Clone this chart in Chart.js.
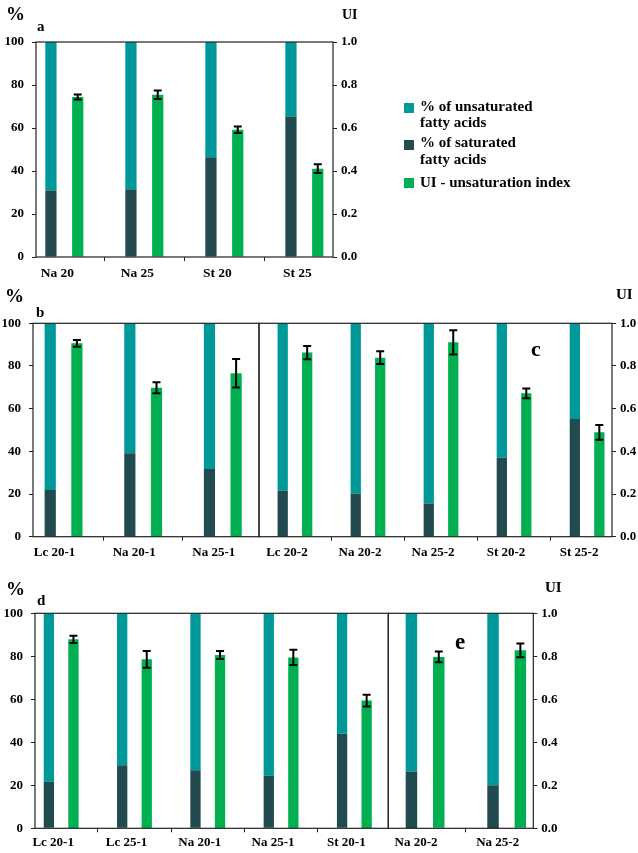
<!DOCTYPE html>
<html>
<head>
<meta charset="utf-8">
<script src="https://cdn.jsdelivr.net/npm/chart.js@4.4.1/dist/chart.umd.min.js"></script>
<style>
  body { margin: 0; background: #fff; }
  #page { position: relative; width: 638px; height: 853px; overflow: hidden;
          font-family: 'Liberation Serif', 'Times New Roman', serif; font-weight: bold; color: #000; }
  canvas { position: absolute; left: 0; }
  .t { position: absolute; line-height: 1; white-space: nowrap; }
  .sq { position: absolute; width: 10px; height: 10px; }
</style>
</head>
<body>
<div id="page">
  <canvas id="chA" width="638" height="285" style="top:0px"></canvas>
  <canvas id="chB" width="638" height="285" style="top:285px"></canvas>
  <canvas id="chC" width="638" height="285" style="top:285px"></canvas>
  <canvas id="chD" width="638" height="283" style="top:570px"></canvas>
  <canvas id="chE" width="638" height="283" style="top:570px"></canvas>

  <!-- axis units and panel letters -->
  <div class="t" style="left:6px;top:4px;font-size:19px">%</div>
  <div class="t" style="left:342px;top:8px;font-size:14px">UI</div>
  <div class="t" style="left:37px;top:19px;font-size:15px">a</div>

  <div class="t" style="left:5px;top:286px;font-size:19px">%</div>
  <div class="t" style="left:616px;top:287px;font-size:15px">UI</div>
  <div class="t" style="left:36px;top:305px;font-size:15px">b</div>
  <div class="t" style="left:531px;top:338px;font-size:22px">c</div>

  <div class="t" style="left:6px;top:579px;font-size:19px">%</div>
  <div class="t" style="left:545px;top:580px;font-size:15px">UI</div>
  <div class="t" style="left:37px;top:593px;font-size:15px">d</div>
  <div class="t" style="left:455px;top:630px;font-size:23px">e</div>

  <!-- legend -->
  <div class="sq" style="left:404px;top:103px;background:#009999"></div>
  <div class="t" style="left:420px;top:99px;font-size:15px">% of unsaturated</div>
  <div class="t" style="left:420px;top:115px;font-size:15px">fatty acids</div>
  <div class="sq" style="left:404px;top:140px;background:#224b50"></div>
  <div class="t" style="left:420px;top:135px;font-size:15px">% of saturated</div>
  <div class="t" style="left:420px;top:152px;font-size:15px">fatty acids</div>
  <div class="sq" style="left:404px;top:178px;background:#00b050"></div>
  <div class="t" style="left:420px;top:175px;font-size:15px">UI - unsaturation index</div>
</div>

<script>
// panel a
const catsA = ['Na 20', 'Na 25', 'St 20', 'St 25'];
const satA = [31.0, 31.5, 46.4, 65.3];
const unsatA = [69.0, 68.5, 53.6, 34.7];
const uiA = [0.744, 0.755, 0.592, 0.411];
const errA = [0.012, 0.020, 0.015, 0.020];

// panel b
const catsB = ['Lc 20-1', 'Na 20-1', 'Na 25-1'];
const satB = [21.9, 39.1, 31.7];
const unsatB = [78.1, 60.9, 68.3];
const uiB = [0.906, 0.698, 0.766];
const errB = [0.016, 0.026, 0.067];

// panel c
const catsC = ['Lc 20-2', 'Na 20-2', 'Na 25-2', 'St 20-2', 'St 25-2'];
const satC = [21.6, 20.3, 15.6, 37.0, 55.2];
const unsatC = [78.4, 79.7, 84.4, 63.0, 44.8];
const uiC = [0.863, 0.839, 0.911, 0.672, 0.489];
const errC = [0.031, 0.030, 0.057, 0.023, 0.035];

// panel d
const catsD = ['Lc 20-1', 'Lc 25-1', 'Na 20-1', 'Na 25-1', 'St 20-1'];
const satD = [21.7, 29.3, 27.0, 24.5, 44.0];
const unsatD = [78.3, 70.7, 73.0, 75.5, 56.0];
const uiD = [0.879, 0.786, 0.806, 0.795, 0.594];
const errD = [0.017, 0.039, 0.019, 0.035, 0.027];

// panel e
const catsE = ['Na 20-2', 'Na 25-2'];
const satE = [26.4, 20.0];
const unsatE = [73.6, 80.0];
const uiE = [0.797, 0.828];
const errE = [0.025, 0.032];

const pctTicks = [0, 20, 40, 60, 80, 100];
const uiTicks = [0, 0.2, 0.4, 0.6, 0.8, 1.0];

const DARK = '#224b50';
const TEAL = '#009999';
const GREEN = '#00b050';
const LINE = '#222';
const FONT = "'Liberation Serif', 'Times New Roman', serif";

Chart.defaults.color = '#000';

// box round the plot area (top line, axes, divider)
const framePlugin = {
    id: 'frame',
    afterDraw(chart) {
        const { ctx, chartArea: a } = chart;
        ctx.save();
        ctx.strokeStyle = LINE;
        ctx.lineWidth = 1.2;
        ctx.strokeRect(a.left, a.top, a.right - a.left, a.bottom - a.top);
        ctx.restore();
    }
};

// error bars on the UI bars, through the right axis
function errorBars(ui, err) {
    return {
        id: 'errbars',
        afterDatasetsDraw(chart) {
            const { ctx } = chart;
            const y2 = chart.scales.y2;
            const meta = chart.getDatasetMeta(2);
            ctx.save();
            ctx.strokeStyle = '#000';
            ctx.lineWidth = 2;
            meta.data.forEach((bar, i) => {
                const top = y2.getPixelForValue(ui[i] + err[i]);
                const bot = y2.getPixelForValue(ui[i] - err[i]);
                ctx.beginPath();
                ctx.moveTo(bar.x, top); ctx.lineTo(bar.x, bot);
                ctx.moveTo(bar.x - 4, top); ctx.lineTo(bar.x + 4, top);
                ctx.moveTo(bar.x - 4, bot); ctx.lineTo(bar.x + 4, bot);
                ctx.stroke();
            });
            ctx.restore();
        }
    };
}

function panel(id, cats, sat, unsat, ui, err, o) {
    new Chart(document.getElementById(id), {
        type: 'bar',
        data: {
            labels: cats.map((c, i) => i),
            datasets: [
                { label: '% of saturated fatty acids', data: sat, backgroundColor: DARK, stack: 'fa', yAxisID: 'y' },
                { label: '% of unsaturated fatty acids', data: unsat, backgroundColor: TEAL, stack: 'fa', yAxisID: 'y' },
                { label: 'UI - unsaturation index', data: ui, backgroundColor: GREEN, stack: 'ui', yAxisID: 'y2' }
            ]
        },
        options: {
            responsive: false,
            animation: false,
            categoryPercentage: 0.67,
            barPercentage: 0.42,
            layout: { padding: o.pad },
            plugins: { legend: { display: false }, tooltip: { enabled: false } },
            scales: {
                x: {
                    type: 'linear',
                    min: o.xmin,
                    max: o.xmax,
                    offset: false,
                    grid: { offset: true, drawOnChartArea: false, tickLength: 4, color: LINE },
                    border: { display: false },
                    ticks: {
                        stepSize: 1, includeBounds: false, autoSkip: false, maxRotation: 0,
                        padding: o.xpad, labelOffset: o.xshift, color: '#000',
                        font: { family: FONT, weight: 'bold', size: o.xfont },
                        callback: v => cats[v] ?? ''
                    },
                    afterFit: s => { s.height = o.xh; }
                },
                y: {
                    display: o.left,
                    stacked: true,
                    min: 0, max: 100,
                    grid: { drawOnChartArea: false, tickLength: 4, color: LINE },
                    border: { display: false },
                    afterBuildTicks: s => { s.ticks = pctTicks.map(v => ({ value: v })); },
                    ticks: { padding: 8, color: '#000', font: { family: FONT, weight: 'bold', size: 13 } },
                    afterFit: s => { s.width = o.lw; }
                },
                y2: {
                    display: o.right,
                    position: 'right',
                    min: 0, max: 1,
                    grid: { drawOnChartArea: false, tickLength: 4, color: LINE },
                    border: { display: false },
                    afterBuildTicks: s => { s.ticks = uiTicks.map(v => ({ value: v })); },
                    ticks: {
                        padding: 4, color: '#000', font: { family: FONT, weight: 'bold', size: 13 },
                        callback: v => v.toFixed(1)
                    },
                    afterFit: s => { s.width = o.rw; }
                }
            }
        },
        plugins: [framePlugin, errorBars(ui, err)]
    });
}

panel('chA', catsA, satA, unsatA, uiA, errA, {
    pad: { left: 0, right: 275, top: 42, bottom: 0 },
    left: true, right: true, lw: 36, rw: 30, xh: 28, xpad: 4, xshift: -7, xfont: 13.5,
    xmin: -0.354, xmax: 3.358
});
panel('chB', catsB, satB, unsatB, uiB, errB, {
    pad: { left: 0, right: 379, top: 38.3, bottom: 5.3 },
    left: true, right: false, lw: 33, rw: 0, xh: 28, xpad: 4, xshift: -9, xfont: 13,
    xmin: -0.384, xmax: 2.455
});
panel('chC', catsC, satC, unsatC, uiC, errC, {
    pad: { left: 259, right: 0, top: 38.3, bottom: 5.3 },
    left: false, right: true, lw: 0, rw: 26, xh: 28, xpad: 4, xshift: -8, xfont: 13,
    xmin: -0.492, xmax: 4.341
});
panel('chD', catsD, satD, unsatD, uiD, errD, {
    pad: { left: 0, right: 249.7, top: 43.3, bottom: 0.7 },
    left: true, right: false, lw: 35, rw: 0, xh: 24, xpad: 3, xshift: -8, xfont: 13,
    xmin: -0.357, xmax: 4.463
});
panel('chE', catsE, satE, unsatE, uiE, errE, {
    pad: { left: 388.3, right: 74.7, top: 43.3, bottom: 0.7 },
    left: false, right: true, lw: 0, rw: 30, xh: 24, xpad: 3, xshift: -9, xfont: 13,
    xmin: -0.451, xmax: 1.326
});
</script>
</body>
</html>
